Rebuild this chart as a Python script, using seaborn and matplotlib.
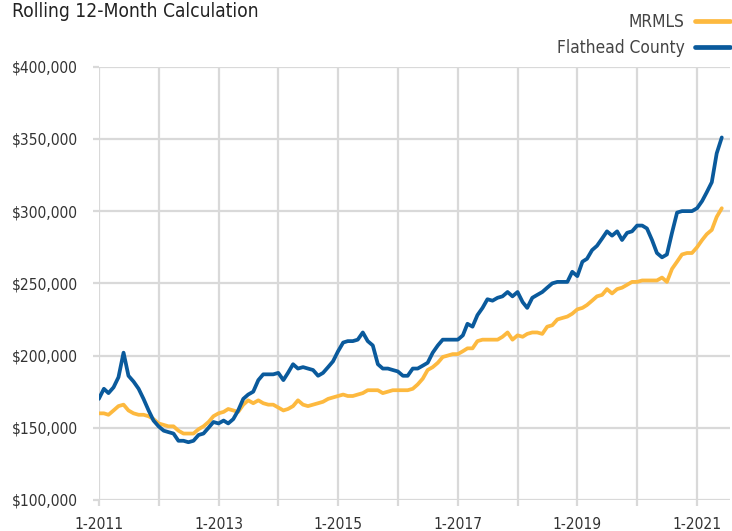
import numpy as np
import pandas as pd
import matplotlib
matplotlib.use("Agg")
import matplotlib.pyplot as plt
import matplotlib.dates as mdates
from matplotlib import font_manager
from matplotlib.ticker import FuncFormatter
from matplotlib.lines import Line2D
import seaborn as sns

# monthly rolling 12-month values, Jan 2011 .. Jun 2021 (thousands of $)
inicio = "2011-01-01"
flathead = [
    170, 177, 174, 178, 185, 202, 186, 182, 177, 170, 162, 155,
    151, 148, 147, 146, 141, 141, 140, 141, 145, 146, 150, 154,
    153, 155, 153, 156, 162, 170, 173, 175, 183, 187, 187, 187,
    188, 183, 188, 194, 191, 192, 191, 190, 186, 188, 192, 196,
    203, 209, 210, 210, 211, 216, 210, 207, 194, 191, 191, 190,
    189, 186, 186, 191, 191, 193, 195, 202, 207, 211, 211, 211,
    211, 214, 222, 220, 228, 233, 239, 238, 240, 241, 244, 241,
    244, 237, 233, 240, 242, 244, 247, 250, 251, 251, 251, 258,
    255, 265, 267, 273, 276, 281, 286, 283, 286, 280, 285, 286,
    290, 290, 288, 280, 271, 268, 270, 285, 299, 300, 300, 300,
    302, 307, 313, 320, 340, 351,
]
mrmls = [
    160, 160, 159, 162, 165, 166, 162, 160, 159, 159, 158, 156,
    153, 152, 151, 151, 148, 146, 146, 146, 149, 151, 154, 158,
    160, 161, 163, 162, 161, 166, 169, 167, 169, 167, 166, 166,
    164, 162, 163, 165, 169, 166, 165, 166, 167, 168, 170, 171,
    172, 173, 172, 172, 173, 174, 176, 176, 176, 174, 175, 176,
    176, 176, 176, 177, 180, 184, 190, 192, 195, 199, 200, 201,
    201, 203, 205, 205, 210, 211, 211, 211, 211, 213, 216, 211,
    214, 213, 215, 216, 216, 215, 220, 221, 225, 226, 227, 229,
    232, 233, 235, 238, 241, 242, 246, 243, 246, 247, 249, 251,
    251, 252, 252, 252, 252, 254, 251, 260, 265, 270, 271, 271,
    275, 280, 284, 287, 296, 302,
]
series = ["MRMLS", "Flathead County"]
cores = {"MRMLS": "#FDB93F", "Flathead County": "#0A5A9C"}
titulo = "Rolling 12-Month Calculation"

datas = pd.date_range(inicio, periods=len(flathead), freq="MS")
df = pd.concat([
    pd.DataFrame({"data": datas, "valor": np.array(mrmls) * 1000, "serie": "MRMLS"}),
    pd.DataFrame({"data": datas, "valor": np.array(flathead) * 1000, "serie": "Flathead County"}),
])

sns.set_theme(style="white")

# procura uma fonte condensada (o original usa algo tipo Arial Narrow)
fonte, largura, escala = None, "normal", 1.0
for f in font_manager.fontManager.ttflist:
    st = str(f.stretch).lower()
    if "narrow" in f.name.lower() or "condensed" in f.name.lower() or st in ("condensed", "semi-condensed", "extra-condensed", "400", "300", "500"):
        if f.style == "normal" and f.weight in (400, "normal", "regular"):
            fonte, largura = f.name, f.stretch
            break
if fonte is None:
    fonte, escala = "Liberation Sans", 0.86
plt.rcParams["font.family"] = [fonte, "DejaVu Sans"]
plt.rcParams["font.stretch"] = largura

texto = "#333333"
grade = "#D9D9D9"

fig = plt.figure(figsize=(7.32, 5.31), dpi=100)
ax = fig.add_axes([0.135, 0.0584, 0.862, 0.816])

sns.lineplot(data=df, x="data", y="valor", hue="serie", hue_order=series,
             palette=cores, linewidth=2.7, ax=ax, legend=False)

ax.set_ylim(100000, 400000)
ax.set_xlim(datas[0], pd.Timestamp("2021-07-20"))
ax.set_yticks(range(100000, 400001, 50000))
ax.yaxis.set_major_formatter(FuncFormatter(lambda v, p: f"${v:,.0f}"))
ax.xaxis.set_major_locator(mdates.YearLocator(1, month=1, day=1))

def rotulo_x(v, p):
    d = mdates.num2date(v)
    return f"{d.month}-{d.year}" if d.year % 2 == 1 else ""

ax.xaxis.set_major_formatter(FuncFormatter(rotulo_x))
ax.grid(True, color=grade, linewidth=1.6)
ax.tick_params(axis="both", length=4, width=1.6, color=grade, labelsize=11.2 * escala,
               labelcolor=texto, bottom=True, left=True)
ax.tick_params(axis="x", pad=8)
ax.tick_params(axis="y", pad=11)
for s in ax.spines.values():
    s.set_visible(False)
ax.set_xlabel("")
ax.set_ylabel("")

fig.text(0.016, 0.997, titulo, fontsize=13.8 * escala, color="#222222", va="top", ha="left")

alcas = [Line2D([0], [0], color=cores[s], linewidth=3.4) for s in series]
fig.legend(alcas, series, loc="upper right", bbox_to_anchor=(1.012, 0.997),
           frameon=False, markerfirst=False, fontsize=12.4 * escala, labelcolor="#444444",
           handlelength=2.0, handletextpad=0.6, labelspacing=0.5, borderpad=0.15)

fig.savefig("out.png", dpi=100)
